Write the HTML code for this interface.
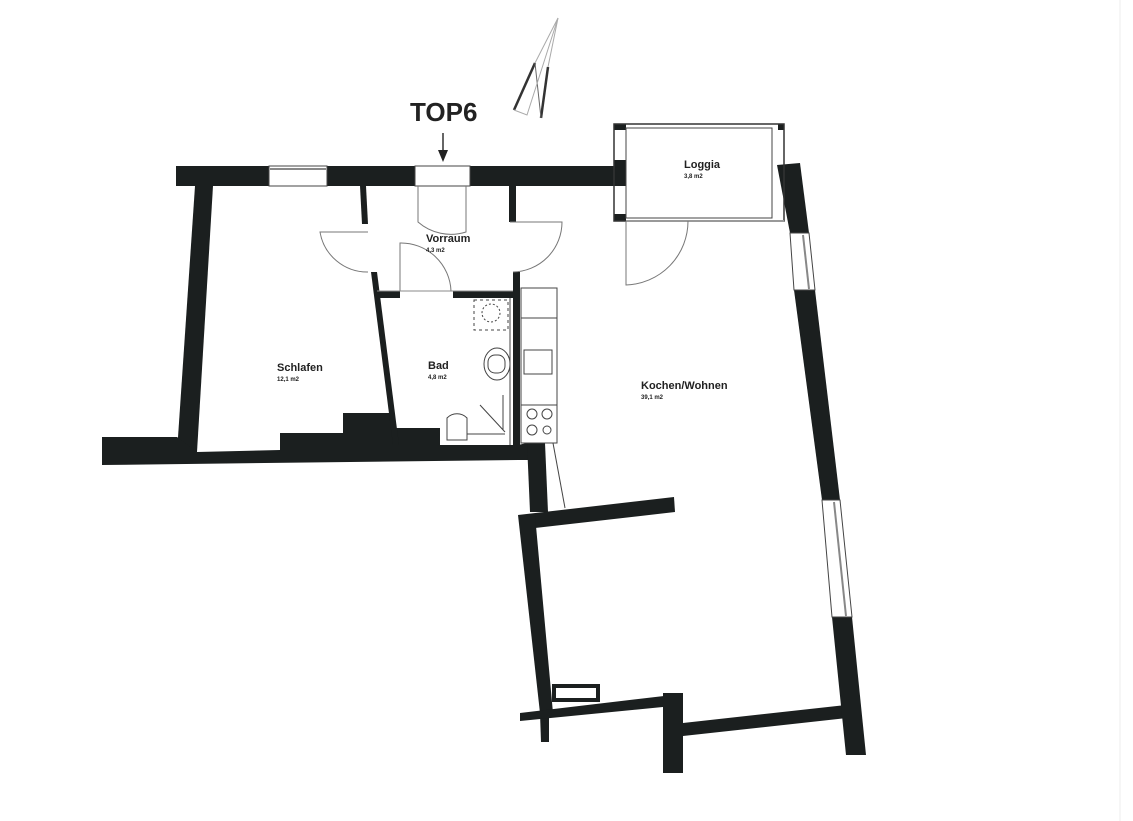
<!DOCTYPE html>
<html><head><meta charset="utf-8"><style>
html,body{margin:0;padding:0;background:#fff;}
svg{display:block;}
text{font-family:"Liberation Sans",sans-serif;fill:#222;}
</style></head><body>
<svg width="1133" height="821" viewBox="0 0 1133 821" xmlns="http://www.w3.org/2000/svg">
<rect width="1133" height="821" fill="#fff"/>
<line x1="1120" y1="0" x2="1120" y2="821" stroke="#eee" stroke-width="1"/>
<g fill="#1b1f1f" stroke="none">
<rect x="176" y="166" width="93" height="20"/>
<rect x="327" y="166" width="88" height="20"/>
<rect x="470" y="166" width="144" height="20"/>
<polygon points="195,186 213,186 197,452 177,452"/>
<polygon points="102,437 177,437 197,452 280,450 280,433 343,433 343,413 392,413 392,428 440,428 440,445 518,445 527,443 545,443 545,460 518,460 102,465"/>
<polygon points="360,186 366,186 368,224 362,224"/>
<polygon points="371,272 377,272 399,445 393,445"/>
<rect x="375" y="291" width="25" height="7"/>
<rect x="453" y="291" width="66" height="7"/>
<rect x="509" y="186" width="7" height="36"/>
<rect x="513" y="272" width="7" height="175"/>
<polygon points="527,443 545,443 548,512 530,512"/>
<polygon points="518,515 674,497 675,512 535,528"/>
<polygon points="518,515 535,515 553,713 540,713"/>
<polygon points="540,713 549,713 549,742 541,742"/>
<polygon points="520,713 664,696 683,693 683,705 520,721"/>
<rect x="663" y="693" width="20" height="80"/>
<polygon points="683,723 846,705 847,718 683,736"/>
<polygon points="777,165 800,163 809,233 790,233"/>
<polygon points="794,290 815,290 840,500 822,500"/>
<polygon points="832,617 852,617 866,755 846,755"/>
<rect x="614" y="160" width="12" height="26"/>
<rect x="614" y="124" width="12" height="6"/>
<rect x="614" y="214" width="12" height="7"/>
<rect x="778" y="124" width="6" height="6"/>
</g>
<rect x="554" y="686" width="44" height="14" fill="none" stroke="#1b1f1f" stroke-width="4"/>
<g fill="none" stroke="#444" stroke-width="1">
<rect x="269" y="166" width="58" height="20"/>
<line x1="270" y1="169" x2="326" y2="169" stroke-width="2" stroke="#888"/>
<rect x="415" y="166" width="55" height="20"/>
<polygon points="790,233 809,233 815,290 794,290"/>
<line x1="803" y1="235" x2="809" y2="289" stroke="#888" stroke-width="2"/>
<polygon points="822,500 840,500 852,617 832,617"/>
<line x1="834" y1="502" x2="846" y2="616" stroke="#888" stroke-width="2"/>
<rect x="614" y="124" width="170" height="97" stroke="#333" stroke-width="1.5"/>
<rect x="626" y="128" width="146" height="90"/>
<line x1="626" y1="221" x2="784" y2="221" stroke="#999" stroke-width="2"/>
<path d="M626,221 L626,285 A64,64 0 0 0 688,221" stroke="#777"/>
<path d="M418,186 L418,222 A50,50 0 0 0 466,232 L466,186" stroke="#777"/>
<path d="M368,232 L320,232 A48,48 0 0 0 368,272" stroke="#777"/>
<path d="M510,222 L562,222 A50,50 0 0 1 513,272" stroke="#777"/>
<path d="M400,291 L400,243 A50,50 0 0 1 451,291" stroke="#777"/>
<line x1="377" y1="291" x2="513" y2="291" stroke="#888"/>
<rect x="474" y="300" width="34" height="30" stroke-dasharray="3,3"/>
<circle cx="491" cy="313" r="9" stroke-dasharray="2,2"/>
<line x1="510" y1="298" x2="510" y2="445"/>
<ellipse cx="497" cy="364" rx="13" ry="16"/>
<rect x="488" y="355" width="17" height="18" rx="7"/>
<path d="M447,440 L447,418 A14,14 0 0 1 467,418 L467,440 Z"/>
<line x1="480" y1="405" x2="505" y2="432"/>
<line x1="503" y1="395" x2="503" y2="430"/>
<line x1="467" y1="434" x2="505" y2="434"/>
<rect x="521" y="288" width="36" height="155"/>
<line x1="521" y1="318" x2="557" y2="318"/>
<rect x="524" y="350" width="28" height="24"/>
<line x1="521" y1="405" x2="557" y2="405"/>
<circle cx="532" cy="414" r="5"/><circle cx="547" cy="414" r="5"/>
<circle cx="532" cy="430" r="5"/><circle cx="547" cy="430" r="4"/>
<line x1="553" y1="443" x2="565" y2="508"/>
<!-- north arrow -->
<polyline points="514,110 535,63" stroke="#333" stroke-width="2.5"/>
<polyline points="548,67 541,118" stroke="#333" stroke-width="2.5"/>
<polyline points="535,63 541,118" stroke="#666" stroke-width="1"/>
<polyline points="514,110 527,115 558,18 535,63" stroke="#aaa"/>
<line x1="558" y1="18" x2="548" y2="67" stroke="#aaa"/>
</g>
<line x1="443" y1="133" x2="443" y2="152" stroke="#333" stroke-width="1.5"/>
<polygon points="438,150 448,150 443,162" fill="#222"/>
<text x="410" y="121" font-size="26" font-weight="bold">TOP6</text>
<text x="426" y="242" font-size="11" font-weight="bold">Vorraum</text>
<text x="426" y="252" font-size="6" font-weight="bold">4,3 m2</text>
<text x="277" y="371" font-size="11" font-weight="bold">Schlafen</text>
<text x="277" y="381" font-size="6" font-weight="bold">12,1 m2</text>
<text x="428" y="369" font-size="11" font-weight="bold">Bad</text>
<text x="428" y="379" font-size="6" font-weight="bold">4,8 m2</text>
<text x="684" y="168" font-size="11" font-weight="bold">Loggia</text>
<text x="684" y="178" font-size="6" font-weight="bold">3,8 m2</text>
<text x="641" y="389" font-size="11" font-weight="bold">Kochen/Wohnen</text>
<text x="641" y="399" font-size="6" font-weight="bold">39,1 m2</text>
</svg>
</body></html>
